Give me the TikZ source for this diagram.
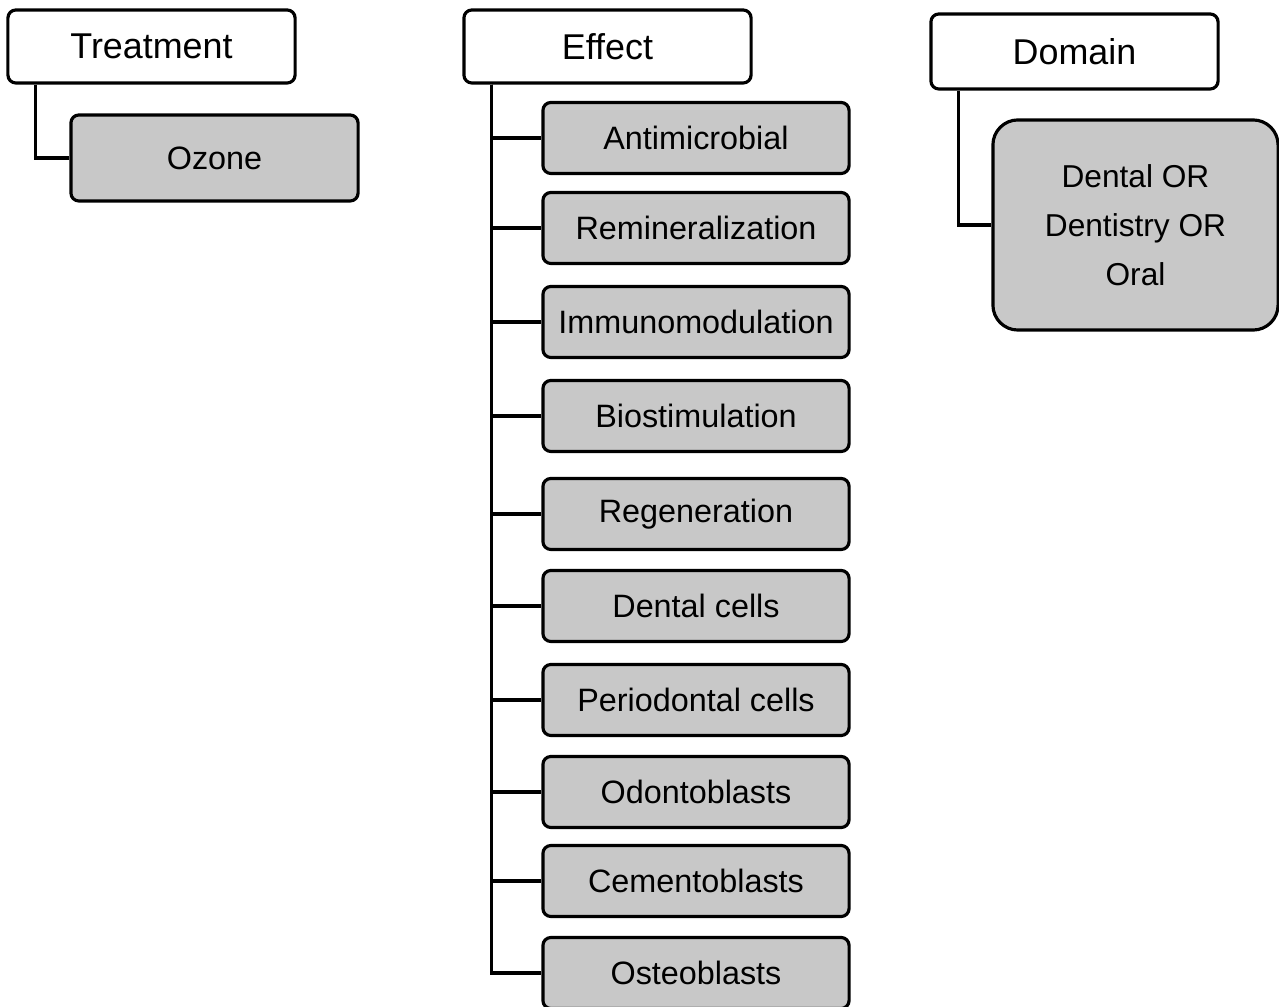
\documentclass[tikz,border=0pt]{standalone}
\usepackage{fontspec}
\setmainfont{Liberation Sans}
\usepackage{tikz}
\usepackage{xcolor}
\definecolor{boxgray}{HTML}{C8C8C8}
\tikzset{headbox/.style={draw,line width=0.9pt,rounded corners=0.08cm,fill=white,minimum width=2.87cm,minimum height=0.73cm,inner sep=0pt,font=\fontsize{10.2}{14}\selectfont}}
\tikzset{itembox/.style={headbox,fill=boxgray,minimum width=3.06cm,minimum height=0.71cm,font=\fontsize{9.2}{14}\selectfont}}
\tikzset{link/.style={line width=0.9pt}}

\begin{document}
\begin{tikzpicture}[x=0.01cm,y=-0.01cm]
            \useasboundingbox (0,0) rectangle (1279,1007);
            % draw the treatment column
            \node[headbox] (treat) at (151.5,46.5) {Treatment};
            \node[itembox,minimum width=2.87cm,minimum height=0.86cm] (ozone) at (214.5,158) {Ozone};
            \draw[link] ([xshift=0.29cm]treat.south west) |- (ozone.west);
            % draw the effect column
            \node[headbox] (effect) at (607.5,46.5) {Effect};
            \foreach \y/\name [count=\i] in {138/Antimicrobial,228/Remineralization,322/Immunomodulation,416/Biostimulation,514/Regeneration,606/Dental cells,700/Periodontal cells,792/Odontoblasts,881/Cementoblasts,973/Osteoblasts}{
                \node[itembox] (eff\i) at (696,\y) {\name};
                \draw[link] ([xshift=0.29cm]effect.south west) |- (eff\i.west);
            }
            % draw the domain column
            \node[headbox,minimum height=0.75cm] (domain) at (1074.5,51.5) {Domain};
            \node[itembox,rounded corners=0.25cm,minimum width=2.85cm,minimum height=2.1cm,align=center,font=\fontsize{9}{14}\selectfont] (dom) at (1135.5,225) {Dental OR\\Dentistry OR\\Oral};
            \draw[link] ([xshift=0.29cm]domain.south west) |- (dom.west);
        \end{tikzpicture}
\end{document}
